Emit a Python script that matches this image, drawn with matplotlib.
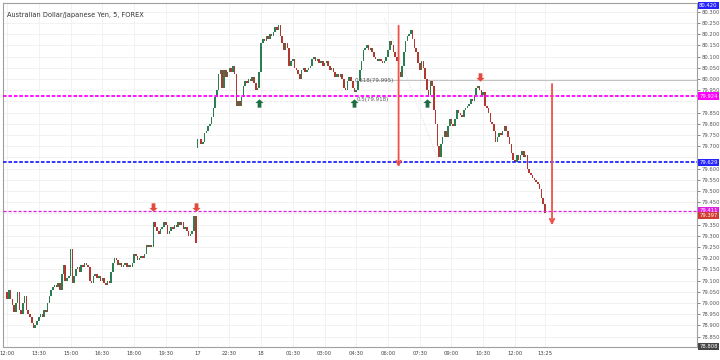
import numpy as np, matplotlib as mpl
mpl.use("Agg"); import matplotlib.pyplot as plt
from matplotlib.transforms import blended_transform_factory as blend

# ---- data: AUD/JPY 5-min closes, Fri 16 12:00..20:55 then Sun 17 21:00..Mon 18 13:25 ----
fri_open = 79.05
fri_close = [
    79.02, 79.06, 79.02, 78.99, 78.96, 79.00, 79.05, 78.97, 78.95, 79.00,
    79.03, 78.97, 78.95, 78.94, 78.91, 78.89, 78.90, 78.92, 78.94, 78.95,
    78.94, 78.97, 78.96, 79.00, 79.03, 79.06, 79.07, 79.08, 79.07, 79.09,
    79.06, 79.13, 79.17, 79.10, 79.11, 79.12, 79.24, 79.09, 79.12, 79.15,
    79.16, 79.14, 79.17, 79.16, 79.18, 79.17, 79.16, 79.10, 79.09, 79.12,
    79.13, 79.11, 79.12, 79.10, 79.11, 79.09, 79.08, 79.10, 79.09, 79.14,
    79.18, 79.20, 79.19, 79.17, 79.18, 79.16, 79.17, 79.18, 79.16, 79.17,
    79.16, 79.18, 79.22, 79.21, 79.19, 79.20, 79.21, 79.20, 79.22, 79.26,
    79.25, 79.26, 79.25, 79.36, 79.34, 79.32, 79.31, 79.33, 79.34, 79.36,
    79.35, 79.31, 79.32, 79.34, 79.33, 79.35, 79.34, 79.36, 79.35, 79.36,
    79.33, 79.34, 79.32, 79.30, 79.31, 79.32, 79.39, 79.27]
sun_open = 79.69
sun_close = [
    79.73, 79.73, 79.71, 79.72, 79.76, 79.77, 79.79, 79.80, 79.83, 79.87,
    79.92, 79.95, 80.02, 80.04, 79.96, 80.04, 80.01, 80.03, 80.05, 80.03,
    80.06, 80.02, 79.88, 79.90, 79.88, 79.92, 79.97, 79.99, 79.98, 80.00,
    79.99, 80.01, 79.98, 79.95, 79.96, 80.03, 80.16, 80.18, 80.17, 80.19,
    80.18, 80.20, 80.19, 80.21, 80.23, 80.22, 80.24, 80.19, 80.16, 80.13,
    80.16, 80.14, 80.06, 80.08, 80.09, 80.05, 80.04, 80.02, 80.00, 80.04,
    80.05, 80.03, 80.04, 80.05, 80.06, 80.09, 80.10, 80.08, 80.09, 80.07,
    80.08, 80.06, 80.07, 80.08, 80.06, 80.04, 80.05, 80.03, 80.01, 80.02,
    80.01, 80.02, 80.00, 79.96, 79.95, 79.99, 80.01, 79.99, 79.96, 79.94,
    79.95, 79.99, 80.04, 80.08, 80.13, 80.14, 80.15, 80.13, 80.14, 80.12,
    80.10, 80.09, 80.08, 80.09, 80.08, 80.07, 80.08, 80.10, 80.13, 80.17,
    80.15, 80.12, 80.10, 80.08, 80.03, 80.01, 80.06, 80.12, 80.17, 80.19,
    80.20, 80.22, 80.18, 80.14, 80.12, 80.07, 80.04, 80.08, 80.05, 80.00,
    79.95, 79.93, 79.99, 79.97, 79.86, 79.80, 79.70, 79.65, 79.71, 79.74,
    79.77, 79.74, 79.79, 79.82, 79.80, 79.79, 79.82, 79.86, 79.85, 79.84,
    79.83, 79.86, 79.87, 79.88, 79.89, 79.91, 79.90, 79.93, 79.96, 79.97,
    79.95, 79.93, 79.94, 79.88, 79.87, 79.85, 79.81, 79.80, 79.77, 79.72,
    79.74, 79.76, 79.75, 79.77, 79.79, 79.77, 79.74, 79.71, 79.67, 79.64,
    79.63, 79.66, 79.64, 79.66, 79.68, 79.65, 79.66, 79.60, 79.58, 79.57,
    79.56, 79.55, 79.54, 79.53, 79.51, 79.47, 79.44, 79.40]

time_pos = [0, 18, 36, 54, 72, 90, 108, 126, 144, 162, 180, 198, 216, 234, 252, 270, 288, 305]
time_lbl = ["12:00", "13:30", "15:00", "16:30", "18:00", "19:30", "17", "22:30", "18",
            "01:30", "03:00", "04:30", "06:00", "07:30", "09:00", "10:30", "12:00", "13:25"]

levels = [79.924, 79.629, 79.411]          # drawn horizontal lines
fib_618, fib_05 = 79.995, 79.918
sell_marks = [(83, 79.43), (107, 79.43), (268, 80.01)]
buy_marks = [(143, 79.895), (197, 79.895), (238, 79.895)]
move_arrows = [(222, 80.25, 79.594), (309, 79.99, 79.335)]

GN, RD = "#2b7d52", "#b0382e"
fig = plt.figure(figsize=(7.2, 3.6), dpi=100)
ax = fig.add_axes([3/720, 1-347/360, 694/720, 344/360])
ax.set_xlim(-2.3, 391.2); ax.set_ylim(78.804, 80.339)

# candles
closes = fri_close + sun_close
opens = [fri_open] + fri_close[:-1] + [sun_open] + sun_close[:-1]
x = np.arange(len(closes))
o, c = np.array(opens), np.array(closes)
col = np.where(c >= o, GN, RD)
h = np.abs(c - o); h = np.where(h < 0.004, 0.004, h)
ax.bar(x, h, bottom=np.minimum(o, c), width=0.88, color=col, linewidth=0, zorder=3)

# grid
yt = np.round(np.arange(78.85, 80.301, 0.05), 3)
for v in yt: ax.axhline(v, color="#f0f0f0", lw=0.6, zorder=0)
for p in time_pos: ax.axvline(p, color="#f0f0f0", lw=0.6, zorder=0)

# horizontal levels
ax.axhline(levels[0], color="#ff00ff", lw=1.3, ls=(0, (2, 1)), zorder=4)
ax.axhline(levels[1], color="#2424ff", lw=1.3, ls=(0, (2, 1)), zorder=4)
ax.axhline(levels[2], color="#d81ed8", lw=0.9, ls=(0, (2.5, 1.5)), zorder=4)

# fib bits
ax.plot([200, 391.2], [fib_618, fib_618], color="#b8b8b8", lw=0.6, zorder=2)
ax.plot([214, 245.5], [80.27, 79.616], color="#d0d0d0", lw=0.5, ls=":", zorder=2)
ax.text(197, fib_618, "0.618(79.995)", fontsize=4, color="#555", va="center", ha="left", zorder=5)
ax.text(198, fib_05 - 0.008, "0.5(79.918)", fontsize=4, color="#555", va="center", ha="left", zorder=5)

# arrow marks
up = [(0, 1), (-1, 0.1), (-0.45, 0.1), (-0.45, -1), (0.45, -1), (0.45, 0.1), (1, 0.1), (0, 1)]
dn = [(a, -b) for a, b in up]
for mx, my in sell_marks:
    ax.plot(mx, my, marker=dn, ms=6, color="#e24a3b", mew=0, zorder=6)
for mx, my in buy_marks:
    ax.plot(mx, my, marker=up, ms=6, color="#1e6e42", mew=0, zorder=6)

# measured-move arrows
for ax_x, top, bot in move_arrows:
    ax.annotate("", xy=(ax_x, bot), xytext=(ax_x, top),
                arrowprops=dict(arrowstyle="->", color="#f0504a", lw=1.3, mutation_scale=8), zorder=6)

# title
ax.text(0.006, 0.975, "Australian Dollar/Japanese Yen, 5, FOREX", transform=ax.transAxes,
        fontsize=4.8, color="#333", va="top", ha="left")

# axes / ticks
for s in ax.spines.values(): s.set_color("#a0a0a0"); s.set_linewidth(0.8)
ax.yaxis.tick_right()
ax.set_yticks([v for v in yt if abs(v - 79.90) > 0.01 and abs(v - 79.40) > 0.01 and abs(v - 79.65) > 0.01])
ax.yaxis.set_major_formatter(mpl.ticker.FormatStrFormatter("%.3f"))
ax.tick_params(axis="y", labelsize=3.8, colors="#555", length=2, width=0.5, pad=1)
ax.set_xticks(time_pos); ax.set_xticklabels(time_lbl)
ax.tick_params(axis="x", labelsize=3.8, colors="#444", length=0, pad=3)

tr = blend(ax.transAxes, ax.transData)
def tag(v, s, fc, tc="white"):
    ax.text(1.003, v, s, transform=tr, fontsize=3.8, color=tc, va="center", ha="left",
            bbox=dict(boxstyle="square,pad=0.2", fc=fc, ec="none"), zorder=7, clip_on=False)
tag(levels[0], "79.924", "#ff00ff")
tag(levels[1], "79.629", "#2424ff")
tag(levels[2] + 0.004, "79.411", "#e020e0")
tag(79.392, "79.397", "#d23a30")
tag(80.326, "80.420", "#2424ff")
tag(78.806, "78.808", "#444")

fig.savefig("out.png", dpi=100)
